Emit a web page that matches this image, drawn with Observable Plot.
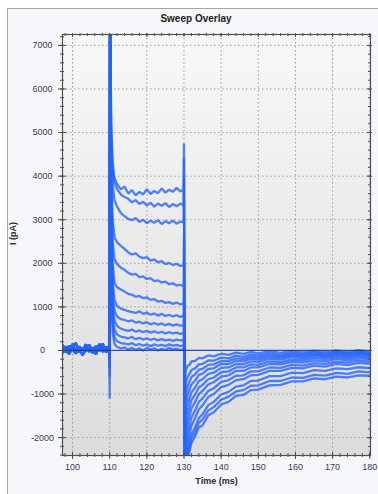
<!DOCTYPE html>
<html><head><meta charset="utf-8">
<script src="https://cdn.jsdelivr.net/npm/d3@7"></script>
<script src="https://cdn.jsdelivr.net/npm/@observablehq/plot@0.6"></script>
<style>
html,body{margin:0;padding:0;background:#ffffff;}
#wrap{position:relative;width:378px;height:494px;overflow:hidden;font-family:"Liberation Sans",Arial,sans-serif;}
#panel{position:absolute;left:7px;top:8px;width:371px;height:486px;background:#f6f7fb;border-top:1px solid #a6a6a6;border-left:1px solid #a6a6a6;box-sizing:border-box;}
#title{position:absolute;left:0;top:13px;width:392px;text-align:center;font-weight:bold;font-size:10px;color:#222;}
#chart{position:absolute;left:0;top:28px;}
</style></head>
<body>
<div id="wrap"><div id="panel"></div><div id="title">Sweep Overlay</div><div id="chart"></div></div>
<script>
// Axes
const xDomain = [97.3, 180.2];
const yDomain = [-2410, 7250];
const xMajor = [100, 110, 120, 130, 140, 150, 160, 170, 180];
const yMajor = [-2000, -1000, 0, 1000, 2000, 3000, 4000, 5000, 6000, 7000];

// Shared sample times (ms)
const preT  = [97.3, 98.2, 99.1, 100, 100.9, 101.8, 102.7, 103.6, 104.5, 105.4, 106.3, 107.2, 108.1, 109, 109.9];
const stepT = [110.4, 110.8, 111.3, 112, 113, 114, 115, 116, 117, 118, 119, 120, 121, 122, 123, 124, 125, 126, 127, 128, 129, 129.9];
const tailT = [130.5, 131, 131.5, 132, 133, 134, 135, 136.5, 138, 140, 142, 144, 146, 148, 150, 153, 156, 159, 162, 165, 168, 171, 174, 177, 180];

// Holding baseline (pA)
const baseA = [60, -40, 110, 20, -70, 90, 0, 140, -30, 70, -90, 120, 10, 80, -20];
const baseB = [-50, 90, 0, 150, -20, 60, -110, 40, 130, -60, 100, -10, 160, -40, 50];
const baseC = [120, 10, -80, 70, 170, -40, 60, -20, 90, 20, -60, 150, -30, 50, 100];

// Capacitive transients per sweep (pA)
const onDip   = [-1100, -600, -400, -300, -200, -200, -100, -100, -100, 0, 0, 0];
const onPeak  = [7800, 7800, 7800, 7800, 7800, 7800, 7800, 7800, 7800, 7800, 7800, 7800];
const offPeak = [4750, 4400, 3900, 2600, 2000, 1500, 1100, 850, 600, 400, 250, 100];
const offDip  = [-2900, -2900, -2850, -2800, -2700, -2500, -2200, -1900, -1600, -1300, -1000, -700];

// Step currents (110-130 ms)
const step1  = [5200, 4300, 3950, 3820, 3700, 3760, 3600, 3680, 3560, 3640, 3580, 3700, 3590, 3660, 3610, 3720, 3620, 3690, 3640, 3730, 3650, 3690];
const step2  = [5000, 4150, 3850, 3700, 3580, 3520, 3480, 3400, 3450, 3360, 3410, 3330, 3390, 3300, 3370, 3320, 3380, 3290, 3360, 3310, 3370, 3330];
const step3  = [4800, 3800, 3450, 3300, 3150, 3080, 3020, 2990, 3040, 2950, 3000, 2920, 2980, 2930, 2990, 2900, 2970, 2920, 2980, 2910, 2960, 2940];
const step4  = [4200, 3000, 2600, 2480, 2400, 2330, 2250, 2200, 2230, 2150, 2120, 2140, 2060, 2090, 2020, 2050, 1980, 2010, 1960, 1990, 1940, 1950];
const step5  = [3700, 2500, 2100, 1980, 1900, 1850, 1780, 1740, 1760, 1680, 1700, 1640, 1660, 1590, 1610, 1560, 1580, 1520, 1540, 1490, 1510, 1470];
const step6  = [3300, 2000, 1550, 1450, 1400, 1350, 1300, 1280, 1230, 1250, 1200, 1220, 1160, 1180, 1120, 1140, 1090, 1110, 1070, 1100, 1060, 1070];
const step7  = [2900, 1600, 1150, 1020, 960, 930, 900, 880, 860, 900, 840, 870, 820, 850, 800, 840, 790, 820, 780, 810, 770, 790];
const step8  = [2600, 1300, 900, 780, 720, 700, 670, 690, 640, 660, 620, 650, 600, 630, 590, 620, 580, 610, 570, 600, 570, 580];
const step9  = [2300, 1050, 680, 560, 500, 470, 450, 480, 430, 460, 420, 450, 410, 440, 400, 430, 390, 420, 390, 410, 380, 400];
const step10 = [2000, 800, 480, 360, 320, 300, 280, 310, 260, 290, 250, 280, 240, 270, 230, 260, 230, 250, 220, 250, 230, 240];
const step11 = [1700, 600, 300, 210, 170, 160, 140, 170, 120, 150, 110, 140, 100, 140, 110, 130, 100, 140, 110, 130, 100, 120];
const step12 = [1400, 400, 150, 80, 50, 70, 20, 60, 10, 50, 0, 60, 20, 50, 0, 40, 10, 60, 20, 40, 10, 30];

// Tail currents (130-180 ms)
const tail1  = [-2700, -2480, -2320, -2130, -1970, -1770, -1720, -1490, -1420, -1240, -1180, -1040, -1020, -910, -900, -800, -790, -710, -710, -640, -660, -600, -620, -570, -580];
const tail2  = [-2650, -2380, -2220, -2030, -1870, -1660, -1580, -1380, -1300, -1130, -1060, -940, -910, -810, -800, -700, -700, -620, -630, -560, -575, -515, -535, -480, -505];
const tail3  = [-2600, -2280, -2120, -1930, -1760, -1550, -1460, -1260, -1180, -1010, -950, -830, -800, -700, -690, -590, -590, -510, -520, -450, -470, -410, -430, -385, -405];
const tail4  = [-2500, -2130, -1920, -1730, -1550, -1350, -1260, -1070, -1000, -840, -790, -680, -660, -570, -560, -470, -470, -400, -410, -350, -370, -310, -335, -285, -305];
const tail5  = [-2300, -1930, -1720, -1540, -1370, -1180, -1100, -930, -870, -720, -680, -580, -570, -480, -480, -390, -400, -330, -350, -290, -310, -255, -280, -230, -255];
const tail6  = [-2000, -1680, -1500, -1330, -1180, -1000, -930, -780, -730, -600, -570, -470, -470, -390, -390, -310, -320, -260, -280, -225, -250, -195, -225, -175, -205];
const tail7  = [-1750, -1460, -1300, -1140, -1010, -850, -790, -660, -620, -500, -480, -390, -390, -320, -330, -250, -270, -210, -230, -175, -200, -150, -180, -135, -165];
const tail8  = [-1500, -1240, -1100, -960, -850, -700, -660, -540, -510, -400, -390, -310, -320, -250, -260, -190, -210, -155, -180, -130, -160, -110, -145, -100, -130];
const tail9  = [-1250, -1020, -900, -780, -690, -560, -530, -420, -410, -310, -310, -240, -250, -190, -210, -145, -170, -115, -145, -95, -128, -80, -115, -70, -100];
const tail10 = [-1000, -810, -720, -610, -550, -440, -420, -330, -320, -240, -245, -180, -200, -140, -165, -105, -135, -85, -115, -68, -102, -56, -92, -48, -85];
const tail11 = [-750, -600, -540, -450, -410, -320, -310, -230, -235, -165, -180, -120, -145, -90, -120, -68, -100, -52, -86, -40, -76, -32, -68, -25, -62];
const tail12 = [-450, -350, -330, -250, -240, -170, -180, -115, -135, -75, -100, -50, -80, -32, -65, -18, -53, -8, -45, -2, -40, 2, -36, 5, -34];

const steps = [step1, step2, step3, step4, step5, step6, step7, step8, step9, step10, step11, step12];
const tails = [tail1, tail2, tail3, tail4, tail5, tail6, tail7, tail8, tail9, tail10, tail11, tail12];
const bases = [baseA, baseB, baseC];

const rows = [];
steps.forEach((s, i) => {
  const sweep = "Sweep " + (i + 1);
  const b = bases[i % 3];
  preT.forEach((t, k) => rows.push({sweep, t, v: b[k]}));
  rows.push({sweep, t: 110.0, v: onDip[i]});
  rows.push({sweep, t: 110.1, v: onPeak[i]});
  stepT.forEach((t, k) => rows.push({sweep, t, v: s[k]}));
  rows.push({sweep, t: 130.0, v: offPeak[i]});
  rows.push({sweep, t: 130.2, v: offDip[i]});
  tailT.forEach((t, k) => rows.push({sweep, t, v: tails[i][k]}));
});

const xMinor = d3.range(98, 181, 2);
const yMinor = d3.range(-2400, 7201, 200);
const ink = "#505050";
const labelColor = "#3a3a58";

const plot = Plot.plot({
  width: 378, height: 466,
  marginLeft: 62, marginRight: 8, marginTop: 6, marginBottom: 39,
  x: {domain: xDomain, axis: null},
  y: {domain: yDomain, axis: null},
  style: {background: "transparent", fontFamily: "'Liberation Sans', Arial, sans-serif", fontSize: "9px", overflow: "visible"},
  marks: [
    Plot.frame({fill: "#e6e6e6", stroke: null}),
    Plot.ruleX(xMajor, {x: d => d, stroke: "#9c9c9c", strokeWidth: 1, strokeDasharray: "1.5,2.5"}),
    Plot.ruleY(yMajor, {y: d => d, stroke: "#9c9c9c", strokeWidth: 1, strokeDasharray: "1.5,2.5"}),
    Plot.line(rows, {x: "t", y: "v", z: "sweep", stroke: "#2563ff", strokeWidth: 2.3, strokeOpacity: 0.8, strokeLinejoin: "bevel", clip: true}),
    Plot.ruleY([0], {stroke: "#1b3a8f", strokeWidth: 1.3, strokeOpacity: 0.85}),
    Plot.frame({stroke: ink, strokeWidth: 1.2}),
    // left ticks
    Plot.ruleY(yMajor, {y: d => d, x1: xDomain[0], x2: xDomain[0], insetLeft: -4, insetRight: -4, stroke: ink}),
    Plot.ruleY(yMinor, {y: d => d, x1: xDomain[0], x2: xDomain[0], insetLeft: -2, insetRight: -2, stroke: ink}),
    // right ticks
    Plot.ruleY(yMajor, {y: d => d, x1: xDomain[1], x2: xDomain[1], insetLeft: -3, insetRight: -2, stroke: ink}),
    Plot.ruleY(yMinor, {y: d => d, x1: xDomain[1], x2: xDomain[1], insetLeft: -2, insetRight: -1, stroke: ink}),
    // bottom ticks
    Plot.ruleX(xMajor, {x: d => d, y1: yDomain[0], y2: yDomain[0], insetTop: -3, insetBottom: -4, stroke: ink}),
    Plot.ruleX(xMinor, {x: d => d, y1: yDomain[0], y2: yDomain[0], insetTop: -2, insetBottom: -2, stroke: ink}),
    // top ticks
    Plot.ruleX(xMajor, {x: d => d, y1: yDomain[1], y2: yDomain[1], insetTop: -1, insetBottom: -3, stroke: ink}),
    Plot.ruleX(xMinor, {x: d => d, y1: yDomain[1], y2: yDomain[1], insetTop: -1, insetBottom: -2, stroke: ink}),
    // tick labels
    Plot.text(yMajor, {y: d => d, text: d => String(d), frameAnchor: "left", dx: -20, textAnchor: "middle", fill: labelColor}),
    Plot.text(xMajor, {x: d => d, text: d => String(d), frameAnchor: "bottom", dy: 14, fill: labelColor}),
    // axis titles
    Plot.text(["Time (ms)"], {text: d => d, frameAnchor: "bottom", dy: 28, fontWeight: "bold", fill: "#2a2a2a"}),
    Plot.text(["I (pA)"], {text: d => d, frameAnchor: "left", dx: -49, rotate: -90, fontWeight: "bold", fill: "#2a2a2a"})
  ]
});

// vertical gradient for the plotting area background
const svg = plot;
const ns = "http://www.w3.org/2000/svg";
const defs = document.createElementNS(ns, "defs");
const grad = document.createElementNS(ns, "linearGradient");
grad.setAttribute("id", "bgGrad");
grad.setAttribute("x1", "0"); grad.setAttribute("y1", "0");
grad.setAttribute("x2", "0"); grad.setAttribute("y2", "1");
[["0", "#f8f8f8"], ["1", "#dcdcdc"]].forEach(([o, c]) => {
  const s = document.createElementNS(ns, "stop");
  s.setAttribute("offset", o); s.setAttribute("stop-color", c);
  grad.appendChild(s);
});
defs.appendChild(grad);
svg.insertBefore(defs, svg.firstChild);
const fr = svg.querySelector('[aria-label="frame"]');
if (fr) {
  fr.setAttribute("fill", "url(#bgGrad)");
  fr.querySelectorAll("rect").forEach(r => r.setAttribute("fill", "url(#bgGrad)"));
}
document.getElementById("chart").appendChild(plot);
</script>
</body></html>
